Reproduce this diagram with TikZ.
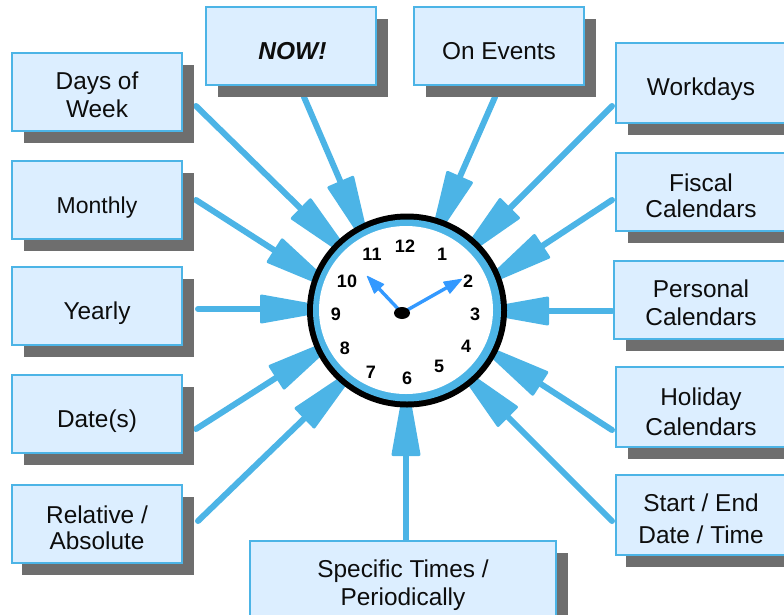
\documentclass[tikz,border=0pt]{standalone}
\usepackage{fontspec}
\setmainfont{Liberation Sans}
\usetikzlibrary{arrows.meta,calc}
\definecolor{skyb}{HTML}{4CB4E6}
\definecolor{boxfill}{HTML}{DCEEFF}
\definecolor{shadowg}{HTML}{6E6E6E}
\definecolor{handb}{HTML}{3399FF}
\tikzset{
  infobox/.style={draw=skyb,fill=boxfill,line width=1.8pt,inner sep=0pt,align=center,text=black!95},
  feed/.style={draw=skyb,line width=6pt,line cap=round},
  feedhead/.style={draw=skyb,fill=skyb,line width=3pt,line join=round},
  clockhand/.style={draw=handb,line width=3.4pt,
    -{Triangle[length=19pt,width=14pt,line width=1pt,round,color=handb,fill=handb]}},
  hournum/.style={font=\fontsize{18}{18}\selectfont\bfseries,inner sep=0pt,text=black},
}
% name, x1, y1, x2, y2, line spacing, text offset, shadow x offset, text
\newcommand{\infocard}[9]{%
  \fill[shadowg] (#2+#8,#3+12) rectangle (#4+12,#5+12);
  \node[infobox,minimum width={(#4-#2)*1pt},minimum height={(#5-#3)*1pt}] (#1) at ({(#2+#4)/2},{(#3+#5)/2})
    {\raisebox{#7}[0pt][0pt]{\fontsize{24.4}{#6}\selectfont\begin{tabular}{@{}c@{}}#9\end{tabular}}};
}
\begin{document}
\begin{tikzpicture}[x=1pt,y=-1pt]
\useasboundingbox (0,0) rectangle (784,614);
\clip (0,0) rectangle (784,614);
\coordinate (tdays) at (196,106);   \coordinate (hdays) at (336,243);
\coordinate (tmonthly) at (196,200);\coordinate (hmonthly) at (316,277);
\coordinate (tyearly) at (198,309); \coordinate (hyearly) at (310,309);
\coordinate (tdates) at (196,429);  \coordinate (hdates) at (318,351);
\coordinate (trel) at (198,521);    \coordinate (hrel) at (340,384);
\coordinate (tnow) at (304,97);     \coordinate (hnow) at (360,227);
\coordinate (tevents) at (495,97);  \coordinate (hevents) at (440,222);
\coordinate (twork) at (612,106);   \coordinate (hwork) at (475,243);
\coordinate (tfiscal) at (612,200); \coordinate (hfiscal) at (501,273);
\coordinate (tpers) at (612,311);   \coordinate (hpers) at (499,311);
\coordinate (thol) at (612,430);    \coordinate (hhol) at (499,357);
\coordinate (tstart) at (612,521);  \coordinate (hstart) at (473,382);
\coordinate (tspec) at (406,540);   \coordinate (hspec) at (406,406);
\foreach \a/\b in {tdays/hdays,tmonthly/hmonthly,tyearly/hyearly,tdates/hdates,trel/hrel,tnow/hnow,tevents/hevents,twork/hwork,tfiscal/hfiscal,tpers/hpers,thol/hhol,tstart/hstart,tspec/hspec}{
  \draw[feed] (\a) -- (\b);
  \coordinate (base) at ($(\b)!48.5pt!(\a)$);
  \coordinate (apex) at ($(\b)!-24pt!(\a)$);
  \draw[feedhead] ($(base)!13pt!90:(\b)$) -- (apex) -- ($(base)!13pt!-90:(\b)$) -- cycle;
}

\infocard{days}{12}{53}{182}{131}{28}{-12.5pt}{12}{Days of\\Week}
\infocard{monthly}{12}{161}{182}{239}{28}{-14.5pt}{12}{\fontsize{23}{28}\selectfont Monthly}
\infocard{yearly}{12}{267}{182}{345}{28}{-14.5pt}{12}{Yearly}
\infocard{dates}{12}{375}{182}{453}{28}{-14.5pt}{12}{Date(s)}
\infocard{relative}{12}{485}{182}{563}{26}{-13.5pt}{10}{Relative /\\Absolute}
\infocard{now}{206}{7}{376}{85}{28}{-14.5pt}{12}{\fontsize{24.5}{28}\selectfont\bfseries\itshape\hspace{3pt}NOW!}
\infocard{events}{414}{7}{584}{85}{28}{-14.5pt}{12}{On Events}
\infocard{workdays}{616}{43}{786}{123}{28}{-13.5pt}{12}{Workdays}
\infocard{fiscal}{616}{153}{786}{231}{26}{-13.5pt}{12}{Fiscal\\Calendars}
\infocard{personal}{614}{261}{788}{339}{28}{-12.5pt}{12}{Personal\\Calendars}
\infocard{holiday}{616}{367}{786}{447}{30}{-13.5pt}{12}{Holiday\\Calendars}
\infocard{startend}{616}{475}{786}{555}{32}{-12.5pt}{10}{Start / End\\Date / Time}
\infocard{specific}{250}{541}{556}{619}{28}{-12.5pt}{12}{Specific Times /\\Periodically}

% clock face
\fill[black] (407,310.5) ellipse [x radius=100,y radius=97];
\fill[skyb] (407,310.5) ellipse [x radius=94,y radius=91];
\fill[white] (406,310) ellipse [x radius=87,y radius=84];
\node[hournum] (n12) at (405,246) {12};
\node[hournum] (n11) at (372,254) {11};
\node[hournum] (n1) at (442,254) {1};
\node[hournum] (n10) at (347,281) {10};
\node[hournum] (n2) at (468,281) {2};
\node[hournum] (n9) at (336,314) {9};
\node[hournum] (n3) at (475,314) {3};
\node[hournum] (n8) at (345,348) {8};
\node[hournum] (n4) at (466,346) {4};
\node[hournum] (n7) at (371,372) {7};
\node[hournum] (n5) at (439,366) {5};
\node[hournum] (n6) at (407,378) {6};
\coordinate (pivot) at (402,313);
\coordinate (hourtip) at (367,276);
\coordinate (mintip) at (462,279);
\draw[clockhand] (pivot) -- (hourtip);
\draw[clockhand] (pivot) -- (mintip);
\fill[black] (pivot) ellipse [x radius=8,y radius=6];
\end{tikzpicture}
\end{document}
